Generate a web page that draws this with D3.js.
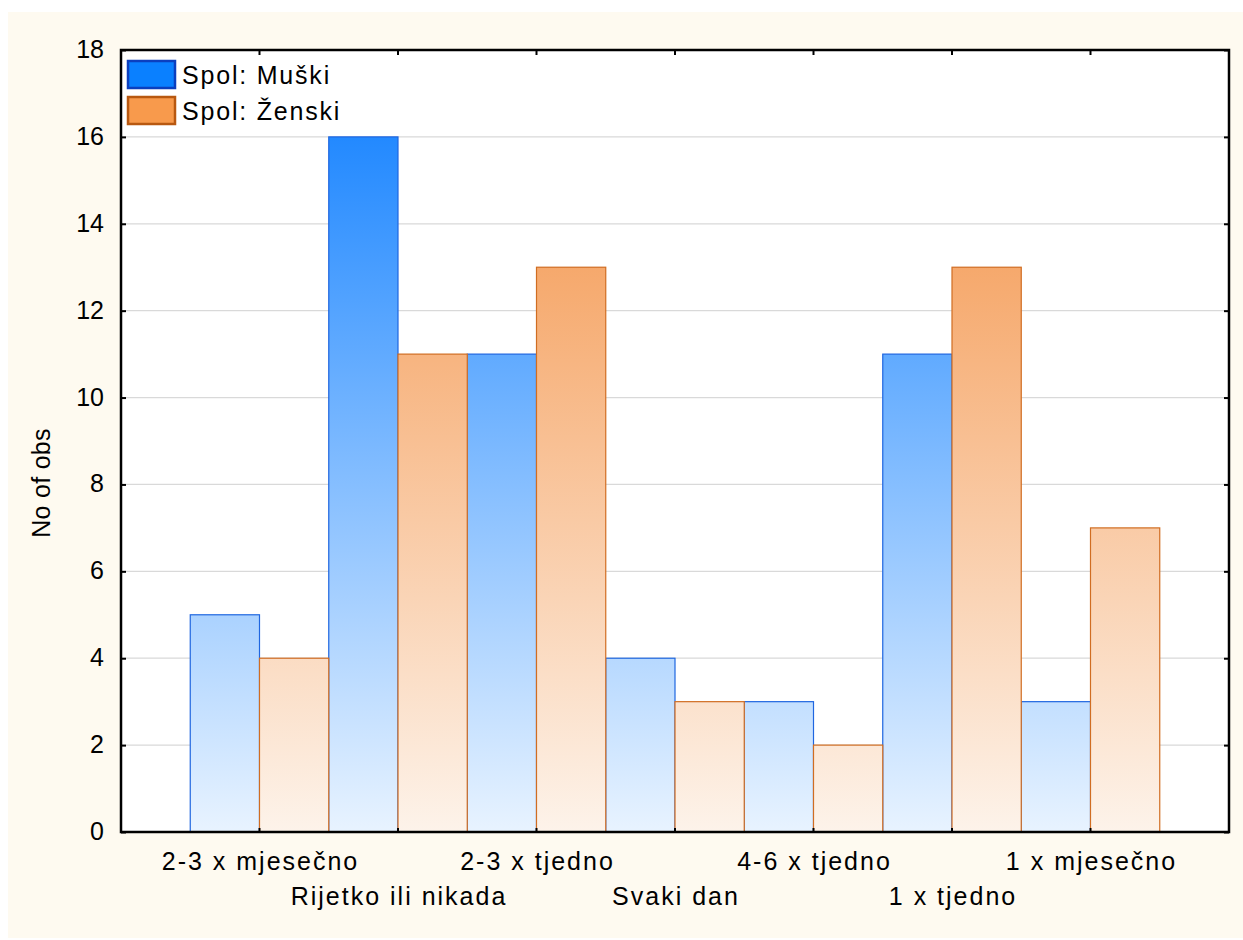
<!DOCTYPE html>
<html>
<head>
<meta charset="utf-8">
<script src="https://cdn.jsdelivr.net/npm/d3@7"></script>
<style>
  html, body { margin: 0; padding: 0; background: #ffffff; }
  svg { display: block; }
  text { font-family: "Liberation Sans", Arial, sans-serif; fill: #000; }
</style>
</head>
<body>
<svg id="chart" width="1243" height="940"></svg>
<script>
const categories = ["2-3 x mjesečno", "Rijetko ili nikada", "2-3 x tjedno", "Svaki dan", "4-6 x tjedno", "1 x tjedno", "1 x mjesečno"];
const seriesNames = ["Spol: Muški", "Spol: Ženski"];
const muski = [5, 16, 11, 4, 3, 11, 3];
const zenski = [4, 11, 13, 3, 2, 13, 7];
const yTicks = [0, 2, 4, 6, 8, 10, 12, 14, 16, 18];

const svg = d3.select("#chart");
const W = 1243, H = 940;
const plot = { left: 121, right: 1229, top: 50, bottom: 832 };

// background panel
svg.append("rect").attr("x", 8).attr("y", 12).attr("width", W - 8).attr("height", H - 14).attr("fill", "#fefaf0");
svg.append("rect").attr("x", plot.left).attr("y", plot.top)
  .attr("width", plot.right - plot.left).attr("height", plot.bottom - plot.top).attr("fill", "#ffffff");

const x = d3.scaleBand().domain(categories).range([plot.left, plot.right]).paddingInner(0).paddingOuter(0.5);
const xs = d3.scaleBand().domain([0, 1]).range([0, x.bandwidth()]).padding(0);
const y = d3.scaleLinear().domain([0, 18]).range([plot.bottom, plot.top]);

// gradients
const defs = svg.append("defs");
function grad(id, top, bottom) {
  const g = defs.append("linearGradient").attr("id", id)
    .attr("gradientUnits", "userSpaceOnUse")
    .attr("x1", 0).attr("x2", 0).attr("y1", y(18)).attr("y2", y(0));
  g.append("stop").attr("offset", "0%").attr("stop-color", top);
  g.append("stop").attr("offset", "100%").attr("stop-color", bottom);
}
grad("gBlue", "#0a7cff", "#e8f3ff");
grad("gOrange", "#f38c3c", "#fdf3ea");

// grid lines
svg.append("g").selectAll("line").data(yTicks.filter(d => d > 0 && d < 18)).join("line")
  .attr("x1", plot.left).attr("x2", plot.right)
  .attr("y1", d => y(d)).attr("y2", d => y(d))
  .attr("stroke", "#d9d9d9").attr("stroke-width", 1.2);

// bars
const series = [
  { name: seriesNames[0], values: muski, fill: "url(#gBlue)", stroke: "#1f66e0" },
  { name: seriesNames[1], values: zenski, fill: "url(#gOrange)", stroke: "#d06d22" }
];
series.forEach((s, si) => {
  svg.append("g").selectAll("rect").data(categories).join("rect")
    .attr("x", c => x(c) + xs(si))
    .attr("width", xs.bandwidth())
    .attr("y", (c, i) => y(s.values[i]))
    .attr("height", (c, i) => y(0) - y(s.values[i]))
    .attr("fill", s.fill)
    .attr("stroke", s.stroke)
    .attr("stroke-width", 1.2);
});

// axes
const axisG = svg.append("g");
const yAxisL = d3.axisLeft(y).tickValues(yTicks).tickSize(-5).tickPadding(17).tickFormat(d3.format("d"));
const gl = axisG.append("g").attr("transform", `translate(${plot.left},0)`).call(yAxisL);
gl.select(".domain").remove();
gl.selectAll("line").attr("stroke", "#000").attr("stroke-width", 2);
gl.selectAll("text").attr("font-size", 25).attr("dy", "0.3em");

const yAxisR = d3.axisRight(y).tickValues(yTicks).tickSize(-5).tickFormat("");
const gr = axisG.append("g").attr("transform", `translate(${plot.right},0)`).call(yAxisR);
gr.select(".domain").remove();
gr.selectAll("line").attr("stroke", "#000").attr("stroke-width", 2);

const xAxisB = d3.axisBottom(x).tickSize(-4).tickFormat("");
const gb = axisG.append("g").attr("transform", `translate(0,${plot.bottom})`).call(xAxisB);
gb.select(".domain").remove();
gb.selectAll("line").attr("stroke", "#000").attr("stroke-width", 2);

const xAxisT = d3.axisTop(x).tickSize(-5).tickFormat("");
const gt = axisG.append("g").attr("transform", `translate(0,${plot.top})`).call(xAxisT);
gt.select(".domain").remove();
gt.selectAll("line").attr("stroke", "#000").attr("stroke-width", 2);

// frame
svg.append("rect").attr("x", plot.left).attr("y", plot.top)
  .attr("width", plot.right - plot.left).attr("height", plot.bottom - plot.top)
  .attr("fill", "none").attr("stroke", "#000").attr("stroke-width", 2.5);

// x labels staggered
svg.append("g").selectAll("text").data(categories).join("text")
  .attr("x", c => x(c) + x.bandwidth() / 2 + 1)
  .attr("y", (c, i) => i % 2 === 0 ? 870 : 905)
  .attr("text-anchor", "middle")
  .attr("font-size", 25)
  .attr("letter-spacing", 2)
  .text(c => c);

// y title
svg.append("text")
  .attr("transform", `translate(50,483) rotate(-90)`)
  .attr("text-anchor", "middle")
  .attr("font-size", 25)
  .attr("letter-spacing", 0.3)
  .text("No of obs");

// legend
const legend = svg.append("g");
const legColors = [
  { fill: "#0a80ff", stroke: "#0b3fbf" },
  { fill: "#f89a4c", stroke: "#b85810" }
];
seriesNames.forEach((n, i) => {
  const yy = 61 + i * 36;
  legend.append("rect").attr("x", 128).attr("y", yy).attr("width", 47).attr("height", 27)
    .attr("fill", legColors[i].fill).attr("stroke", legColors[i].stroke).attr("stroke-width", 2.5);
  legend.append("text").attr("x", 182).attr("y", yy + 22.5).attr("font-size", 25)
    .attr("letter-spacing", 1.8).text(n);
});
</script>
</body>
</html>
